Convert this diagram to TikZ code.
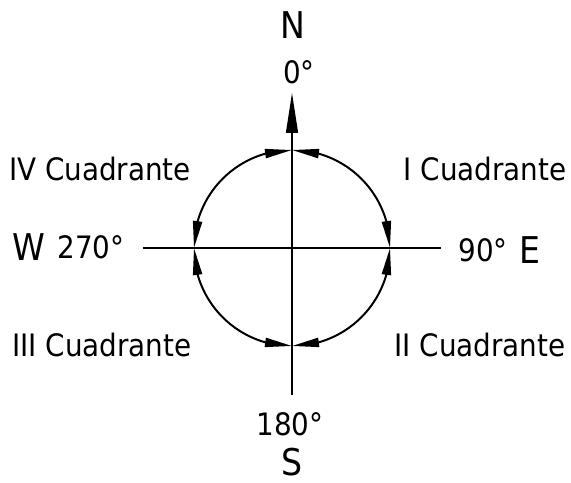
\documentclass[tikz,border=0pt]{standalone}
\usepackage{fontspec}
\setmainfont{DejaVu Sans Condensed}
\usetikzlibrary{positioning,arrows.meta,bending}

\begin{document}
\begin{tikzpicture}[
  x=1bp,y=1bp,
  lbl/.style={font=\fontsize{31}{31}\selectfont,inner sep=0pt},
  card/.style={font=\fontsize{37}{37}\selectfont,inner sep=0pt},
  axis/.style={line width=1.3bp},
  quad/.style={line width=2bp,{Triangle[length=27bp,width=9bp,flex]}-{Triangle[length=27bp,width=9bp,flex]}},
]
\useasboundingbox (-292,-235) rectangle (279,248);
% axes
\coordinate (o) at (0,0);
\coordinate (ntip) at (0,155);
\coordinate (sbot) at (0,-147);
\coordinate (wend) at (-149,0);
\coordinate (eend) at (149,0);
\draw[axis,-{Triangle[length=40bp,width=12bp]}] (sbot) -- (ntip);
\draw[axis] (wend) -- (eend);
% circle points
\coordinate (n) at (0,98);
\coordinate (e) at (98,0);
\coordinate (s) at (0,-98);
\coordinate (w) at (-98,0);
\draw[quad] (n) arc[start angle=90,end angle=0,radius=98];
\draw[quad] (e) arc[start angle=0,end angle=-90,radius=98];
\draw[quad] (s) arc[start angle=270,end angle=180,radius=98];
\draw[quad] (w) arc[start angle=180,end angle=90,radius=98];
% labels
\node[card] (lN) at (1,223) {N};
\node[lbl] (l0) at (7,176) {0°};
\node[lbl] (l180) at (-2,-176) {180°};
\node[card] (lS) at (0,-214) {S};
\node[card] (lW) at (-263,1) {W};
\node[lbl] (l270) at (-201,1) {270°};
\node[lbl] (l90) at (191,-2) {90°};
\node[card] (lE) at (238,-2) {E};
\node[lbl] (q1) at (193,79) {I Cuadrante};
\node[lbl] (q2) at (188,-97) {II Cuadrante};
\node[lbl] (q3) at (-190,-97) {III Cuadrante};
\node[lbl] (q4) at (-192,79) {IV Cuadrante};
\end{tikzpicture}
\end{document}
